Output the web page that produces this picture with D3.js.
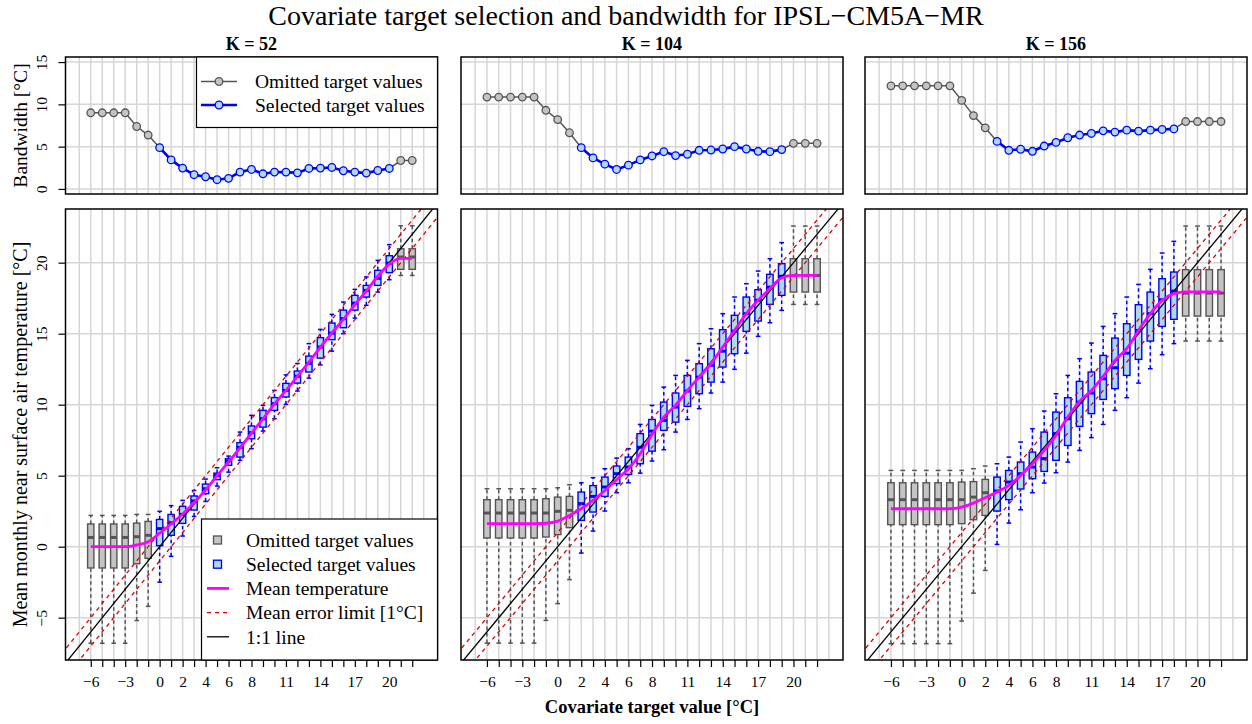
<!DOCTYPE html>
<html><head><meta charset="utf-8">
<script src="https://cdn.jsdelivr.net/npm/d3@7"></script>
<style>
body{margin:0;background:#fff}
svg{display:block}
text{font-family:"Liberation Serif","Times New Roman",Times,serif;fill:#000}
</style>
</head><body>
<svg id="chart" width="1252" height="724"></svg>
<script>
// ---------------- data ----------------
const categories = [-6,-5,-4,-3,-2,-1,0,1,2,3,4,5,6,7,8,9,10,11,12,13,14,15,16,17,18,19,20,21,22];
const xTickLabels = [-6,-3,0,2,4,6,8,11,14,17,20];
const gridX = [-7,-6,-5,-4,-3,-2,-1,0,1,2,3,4,5,6,7,8,9,10,11,12,13,14,15,16,17,18,19,20,21,22,23];
const topTicks = [0,5,10,15];
const bottomTicks = [-5,0,5,10,15,20];
const kValues = [52,104,156];

const bandwidth52  = [9.0,9.0,9.0,9.0,7.38,6.37,4.88,3.43,2.46,1.68,1.44,1.09,1.25,1.99,2.3,1.79,1.99,1.99,1.9,2.42,2.46,2.54,2.15,1.99,1.87,2.18,2.42,3.36,3.36];
const bandwidth104 = [10.86,10.86,10.86,10.86,10.86,9.3,8.2,6.64,4.88,3.67,2.93,2.3,2.81,3.43,3.9,4.41,3.94,4.1,4.57,4.6,4.72,5.0,4.72,4.45,4.41,4.65,5.39,5.39,5.39];
const bandwidth156 = [12.19,12.19,12.19,12.19,12.19,12.19,10.47,8.67,7.22,5.62,4.57,4.69,4.45,5.07,5.5,6.05,6.37,6.56,6.87,6.72,6.95,6.84,6.95,7.03,7.1,7.97,7.97,7.97,7.97];

// first / last selected covariate target per panel
const selectedFrom = [0, 2, 3];
const selectedTo   = [20, 19, 18];

const mean52  = [0,0,0,0,0.12,0.35,0.95,1.6,2.3,3.1,4.0,5.0,5.95,6.95,8.0,9.0,10.05,11.0,12.0,13.0,14.05,15.05,16.0,17.05,18.0,19.05,19.9,20.3,20.3];
const mean104 = [1.62,1.62,1.62,1.62,1.62,1.65,1.8,2.2,2.67,3.26,3.96,4.72,5.49,6.55,7.9,9.13,9.95,11.0,11.94,12.89,14.06,15.23,16.41,17.35,18.17,18.94,19.1,19.1,19.1];
const mean156 = [2.67,2.67,2.67,2.67,2.67,2.67,2.79,3.07,3.45,3.85,4.32,5.02,5.84,6.78,7.84,9.13,10.23,11.0,11.99,13.12,13.94,15.23,16.41,17.35,17.82,17.95,17.95,17.95,17.95];

// boxplot stats per category: [min, q1, median, q3, max]
const box52 = [
 [-6.8,-1.5,0.65,1.6,2.2],[-6.8,-1.5,0.65,1.6,2.2],[-6.8,-1.5,0.65,1.6,2.2],[-6.8,-1.5,0.65,1.6,2.2],
 [-5.2,-1.2,0.7,1.66,2.27],[-4.2,-0.82,0.8,1.78,2.27],[-2.5,0.07,1.27,1.92,2.49],[-0.68,0.8,1.69,2.27,2.89],
 [0.75,1.64,2.27,2.84,3.26],[2.13,2.58,3.22,3.57,3.96],[3.19,3.73,4.08,4.41,4.76],[4.27,4.72,5.02,5.18,5.56],
 [5.25,5.73,6.03,6.2,6.38],[6.08,6.31,7.0,7.32,8.07],[6.9,7.6,8.03,8.5,9.25],[8.14,8.42,9.01,9.6,9.95],
 [9.01,9.6,10.07,10.5,11.0],[10.02,10.54,11.0,11.5,12.1],[10.96,11.52,12.0,12.37,12.9],[11.87,12.3,12.9,13.42,14.3],
 [12.8,13.28,14.06,14.72,15.3],[13.77,14.58,15.04,15.75,16.36],[15.0,15.42,16.06,16.66,17.23],[16.1,16.66,17.15,17.7,18.12],
 [17.0,17.58,18.05,18.4,19.0],[17.93,18.4,18.9,19.46,20.16],[18.8,19.3,19.97,20.49,21.27],[19.1,19.53,20.4,20.98,22.6],
 [19.1,19.53,20.4,20.98,22.6]
];
const box104 = [
 [-6.79,0.61,2.37,3.31,4.08],[-6.79,0.61,2.37,3.31,4.08],[-6.79,0.61,2.37,3.31,4.08],[-6.79,0.61,2.37,3.31,4.08],
 [-6.79,0.61,2.37,3.31,4.08],[-5.19,0.68,2.37,3.38,4.08],[-4.01,0.85,2.49,3.49,4.15],[-2.32,1.34,2.56,3.54,4.36],
 [-0.45,1.85,3.03,3.85,4.5],[1.1,2.44,3.54,4.3,4.86],[2.51,3.54,4.2,4.9,5.49],[3.8,4.44,5.14,5.68,6.24],
 [4.5,5.09,5.61,6.31,6.9],[5.18,5.84,7.0,7.96,8.61],[6.03,6.73,8.14,8.96,9.95],[6.83,8.19,8.89,10.18,11.24],
 [8.07,8.77,9.83,10.82,12.06],[8.96,9.88,10.96,12.06,13.12],[9.72,10.77,11.94,12.89,14.3],[10.82,11.59,12.77,13.94,15.35],
 [11.59,12.65,13.77,15.28,16.41],[12.49,13.59,15.18,16.29,17.58],[13.63,15.16,16.41,17.58,18.52],[14.81,15.89,17.35,18.1,19.41],
 [15.77,17.06,18.28,19.18,20.28],[16.64,17.7,19.04,19.93,21.41],[17.06,17.93,19.1,20.28,22.58],[17.06,17.93,19.1,20.28,22.58],
 [17.06,17.93,19.1,20.28,22.58]
];
const box156 = [
 [-6.83,1.55,3.31,4.5,5.37],[-6.83,1.55,3.31,4.5,5.37],[-6.83,1.55,3.31,4.5,5.37],[-6.83,1.55,3.31,4.5,5.37],
 [-6.83,1.55,3.31,4.5,5.37],[-6.83,1.55,3.31,4.5,5.37],[-5.24,1.62,3.31,4.55,5.37],[-3.27,1.9,3.49,4.58,5.49],
 [-1.67,2.2,3.8,4.74,5.68],[0.16,2.51,3.92,4.9,5.84],[1.66,3.31,4.55,5.37,6.31],[2.6,4.06,5.14,5.96,7.37],
 [3.8,4.79,5.61,6.66,8.31],[4.48,5.3,6.2,8.07,9.55],[5.21,6.08,7.96,9.48,10.77],[5.96,7.13,9.01,10.49,12.06],
 [6.78,8.47,10.18,11.64,13.24],[7.68,9.37,10.82,12.3,14.34],[8.61,10.37,11.83,13.47,15.51],[9.6,11.13,12.6,14.69,16.41],
 [10.49,12.06,13.63,15.7,17.58],[11.52,13.19,15.23,17.04,18.47],[12.53,14.48,16.41,17.93,19.53],[13.52,15.51,17.39,18.87,20.68],
 [14.3,16.01,18.0,19.34,21.5],[14.48,16.24,17.86,19.51,22.58],[14.48,16.24,17.86,19.51,22.58],[14.48,16.24,17.86,19.51,22.58],
 [14.48,16.24,17.86,19.51,22.58]
];

const titleText = "Covariate target selection and bandwidth for IPSL\u2212CM5A\u2212MR";
const legendTop = ["Omitted target values","Selected target values"];
const legendBottom = ["Omitted target values","Selected target values","Mean temperature","Mean error limit [1\u00B0C]","1:1 line"];

// ---------------- layout ----------------
const svg = d3.select("#chart");
const panels = [
  {x0:65.5, x1:437.5, bw:bandwidth52, mean:mean52, box:box52},
  {x0:461, x1:843, bw:bandwidth104, mean:mean104, box:box104},
  {x0:865, x1:1247, bw:bandwidth156, mean:mean156, box:box156}
];
const topY0 = 57, topY1 = 194, botY0 = 209, botY1 = 660;
const yTop = d3.scaleLinear().domain([-0.6, 15.6]).range([topY1, topY0]);
const yBot = d3.scaleLinear().domain([-7.98, 23.78]).range([botY1, botY0]);

const GRID = "#d6d6d6";
const GRAYFILL = "#c4c4c4", GRAYLINE = "#555555";
const BLUEFILL = "#add8e6", BLUELINE = "#0000ff";
const MAGENTA = "#ff00ff", RED = "#e00000";

svg.append("text").attr("x", 626).attr("y", 25).attr("text-anchor","middle")
  .style("font-size","28px").text(titleText);

panels.forEach((p, pi) => {
  const x = d3.scaleLinear().domain([-8.2, 24.2]).range([p.x0, p.x1]);
  const selFrom = selectedFrom[pi], selTo = selectedTo[pi];
  const isSel = v => v >= selFrom && v <= selTo;

  // K label
  svg.append("text").attr("x", (p.x0+p.x1)/2).attr("y", 50).attr("text-anchor","middle")
    .style("font-size","18px").style("font-weight","bold").text("K = " + kValues[pi]);

  // ---------- top panel ----------
  const gT = svg.append("g");
  gT.selectAll("line.vg").data(gridX).join("line")
    .attr("x1", d => x(d)).attr("x2", d => x(d)).attr("y1", topY0).attr("y2", topY1)
    .attr("stroke", GRID).attr("stroke-width", 1.5);
  gT.selectAll("line.hg").data(topTicks).join("line").attr("class","hg")
    .attr("x1", p.x0).attr("x2", p.x1).attr("y1", d => yTop(d)).attr("y2", d => yTop(d))
    .attr("stroke", GRID).attr("stroke-width", 1.5);

  const bwPts = categories.map((c, i) => ({c, v: p.bw[i]}));
  const lineT = d3.line().x(d => x(d.c)).y(d => yTop(d.v));
  gT.append("path").attr("d", lineT(bwPts)).attr("fill","none").attr("stroke", GRAYLINE).attr("stroke-width", 1.5);
  gT.append("path").attr("d", lineT(bwPts.filter(d => isSel(d.c)))).attr("fill","none")
    .attr("stroke", BLUELINE).attr("stroke-width", 2.6);
  gT.selectAll("circle").data(bwPts).join("circle")
    .attr("cx", d => x(d.c)).attr("cy", d => yTop(d.v)).attr("r", 3.8)
    .attr("fill", d => isSel(d.c) ? BLUEFILL : GRAYFILL)
    .attr("stroke", d => isSel(d.c) ? BLUELINE : GRAYLINE).attr("stroke-width", 1.3);
  gT.append("rect").attr("x", p.x0).attr("y", topY0).attr("width", p.x1-p.x0).attr("height", topY1-topY0)
    .attr("fill","none").attr("stroke","#000").attr("stroke-width",1.5);

  // ---------- bottom panel ----------
  const gB = svg.append("g");
  const clipId = "clip" + pi;
  svg.append("clipPath").attr("id", clipId).append("rect")
    .attr("x", p.x0).attr("y", botY0).attr("width", p.x1-p.x0).attr("height", botY1-botY0);
  gB.selectAll("line.vg").data(gridX).join("line")
    .attr("x1", d => x(d)).attr("x2", d => x(d)).attr("y1", botY0).attr("y2", botY1)
    .attr("stroke", GRID).attr("stroke-width", 1.5);
  gB.selectAll("line.hg").data(bottomTicks).join("line").attr("class","hg")
    .attr("x1", p.x0).attr("x2", p.x1).attr("y1", d => yBot(d)).attr("y2", d => yBot(d))
    .attr("stroke", GRID).attr("stroke-width", 1.5);

  const bw = x(0.55) - x(0);
  const cap = x(0.2) - x(0);
  const boxes = categories.map((c, i) => ({c, s: p.box[i], sel: isSel(c)}));
  const bg = gB.selectAll("g.box").data(boxes).join("g").attr("class","box");
  const col = d => d.sel ? BLUELINE : GRAYLINE;
  // whiskers
  bg.append("line").attr("x1", d => x(d.c)).attr("x2", d => x(d.c))
    .attr("y1", d => yBot(d.s[0])).attr("y2", d => yBot(d.s[1]))
    .attr("stroke", col).attr("stroke-width", 1.5).attr("stroke-dasharray","3.5,3");
  bg.append("line").attr("x1", d => x(d.c)).attr("x2", d => x(d.c))
    .attr("y1", d => yBot(d.s[3])).attr("y2", d => yBot(d.s[4]))
    .attr("stroke", col).attr("stroke-width", 1.5).attr("stroke-dasharray","3.5,3");
  // staples
  [0,4].forEach(k => {
    bg.append("line").attr("x1", d => x(d.c)-cap).attr("x2", d => x(d.c)+cap)
      .attr("y1", d => yBot(d.s[k])).attr("y2", d => yBot(d.s[k]))
      .attr("stroke", col).attr("stroke-width", 1.5);
  });
  // box
  bg.append("rect").attr("x", d => x(d.c)-bw/2).attr("width", bw)
    .attr("y", d => yBot(d.s[3])).attr("height", d => yBot(d.s[1]) - yBot(d.s[3]))
    .attr("fill", d => d.sel ? BLUEFILL : GRAYFILL).attr("stroke", col).attr("stroke-width", 1.4);
  // median
  bg.append("line").attr("x1", d => x(d.c)-bw/2).attr("x2", d => x(d.c)+bw/2)
    .attr("y1", d => yBot(d.s[2])).attr("y2", d => yBot(d.s[2]))
    .attr("stroke", col).attr("stroke-width", 3);

  // reference lines
  const gl = gB.append("g").attr("clip-path", `url(#${clipId})`);
  const dom = [-9, 25];
  [-1, 1].forEach(o => {
    gl.append("line").attr("x1", x(dom[0])).attr("y1", yBot(dom[0]+o))
      .attr("x2", x(dom[1])).attr("y2", yBot(dom[1]+o))
      .attr("stroke", RED).attr("stroke-width", 1.3).attr("stroke-dasharray","4,4");
  });
  gl.append("line").attr("x1", x(dom[0])).attr("y1", yBot(dom[0]))
    .attr("x2", x(dom[1])).attr("y2", yBot(dom[1]))
    .attr("stroke", "#000").attr("stroke-width", 1.3);

  // mean temperature
  const meanPts = categories.map((c, i) => ({c, v: p.mean[i]}));
  gB.append("path").attr("d", d3.line().curve(d3.curveMonotoneX).x(d => x(d.c)).y(d => yBot(d.v))(meanPts))
    .attr("fill","none").attr("stroke", MAGENTA).attr("stroke-width", 2.8);

  gB.append("rect").attr("x", p.x0).attr("y", botY0).attr("width", p.x1-p.x0).attr("height", botY1-botY0)
    .attr("fill","none").attr("stroke","#000").attr("stroke-width",1.5);

  // x axis
  const ax = d3.axisBottom(x).tickValues(categories).tickSize(7).tickPadding(9)
    .tickFormat(d => xTickLabels.includes(d) ? d3.format("d")(d) : "");
  const axG = svg.append("g").attr("transform", `translate(0,${botY1})`).call(ax);
  axG.select(".domain").remove();
  axG.selectAll(".tick line").attr("stroke","#000").attr("stroke-width",1.2);
  axG.selectAll(".tick text").style("font-size","15.5px").style("font-family",'"Liberation Serif",serif').attr("fill","#000");

  // y axes on the first column
  if (pi === 0) {
    const ayT = d3.axisLeft(yTop).tickValues(topTicks).tickSize(7).tickFormat(d3.format("d"));
    const gyT = svg.append("g").attr("transform", `translate(${p.x0},0)`).call(ayT);
    const ayB = d3.axisLeft(yBot).tickValues(bottomTicks).tickSize(7).tickFormat(d3.format("d"));
    const gyB = svg.append("g").attr("transform", `translate(${p.x0},0)`).call(ayB);
    [gyT, gyB].forEach(g => {
      g.select(".domain").remove();
      g.selectAll(".tick line").attr("stroke","#000").attr("stroke-width",1.2);
      g.selectAll(".tick text").attr("x", null).attr("dy", null)
        .attr("transform","translate(-19,0) rotate(-90)")
        .attr("text-anchor","middle").attr("y", 0)
        .style("font-size","15.5px").style("font-family",'"Liberation Serif",serif').attr("fill","#000");
    });

    // top legend
    const lt = svg.append("g");
    lt.append("rect").attr("x",196.5).attr("y",topY0).attr("width",p.x1-196.5).attr("height",70.5)
      .attr("fill","#fff").attr("stroke","#000").attr("stroke-width",1.2);
    legendTop.forEach((t, i) => {
      const yy = 81.5 + i*23.5;
      lt.append("line").attr("x1",201).attr("x2",237).attr("y1",yy).attr("y2",yy)
        .attr("stroke", i ? BLUELINE : GRAYLINE).attr("stroke-width", i ? 2.6 : 1.5);
      lt.append("circle").attr("cx",219).attr("cy",yy).attr("r",3.8)
        .attr("fill", i ? BLUEFILL : GRAYFILL).attr("stroke", i ? BLUELINE : GRAYLINE).attr("stroke-width",1.3);
      lt.append("text").attr("x",255).attr("y",yy).attr("dy","0.35em").style("font-size","19.5px").text(t);
    });

    // bottom legend
    const lb = svg.append("g");
    lb.append("rect").attr("x",201.5).attr("y",519).attr("width",p.x1-201.5).attr("height",botY1-519)
      .attr("fill","#fff").attr("stroke","#000").attr("stroke-width",1.2);
    legendBottom.forEach((t, i) => {
      const yy = 540 + i*24.2;
      if (i < 2) {
        lb.append("rect").attr("x",213.5).attr("y",yy-4).attr("width",8).attr("height",8)
          .attr("fill", i ? BLUEFILL : GRAYFILL).attr("stroke", i ? BLUELINE : GRAYLINE).attr("stroke-width",1.3);
      } else {
        lb.append("line").attr("x1",207).attr("x2",229).attr("y1",yy).attr("y2",yy)
          .attr("stroke", i===2 ? MAGENTA : i===3 ? RED : "#000")
          .attr("stroke-width", i===2 ? 2.8 : 1.3)
          .attr("stroke-dasharray", i===3 ? "4,4" : null);
      }
      lb.append("text").attr("x",246).attr("y",yy).attr("dy","0.35em").style("font-size","19.5px").text(t);
    });
  }
});

// axis titles
svg.append("text").attr("transform", `translate(27,${(topY0+topY1)/2}) rotate(-90)`)
  .attr("text-anchor","middle").style("font-size","19.5px").text("Bandwidth [\u00B0C]");
svg.append("text").attr("transform", `translate(27,${(botY0+botY1)/2}) rotate(-90)`)
  .attr("text-anchor","middle").style("font-size","20px").text("Mean monthly near surface air temperature [\u00B0C]");
svg.append("text").attr("x", 652).attr("y", 713).attr("text-anchor","middle")
  .style("font-size","18.5px").style("font-weight","bold").text("Covariate target value [\u00B0C]");
</script>
</body></html>
